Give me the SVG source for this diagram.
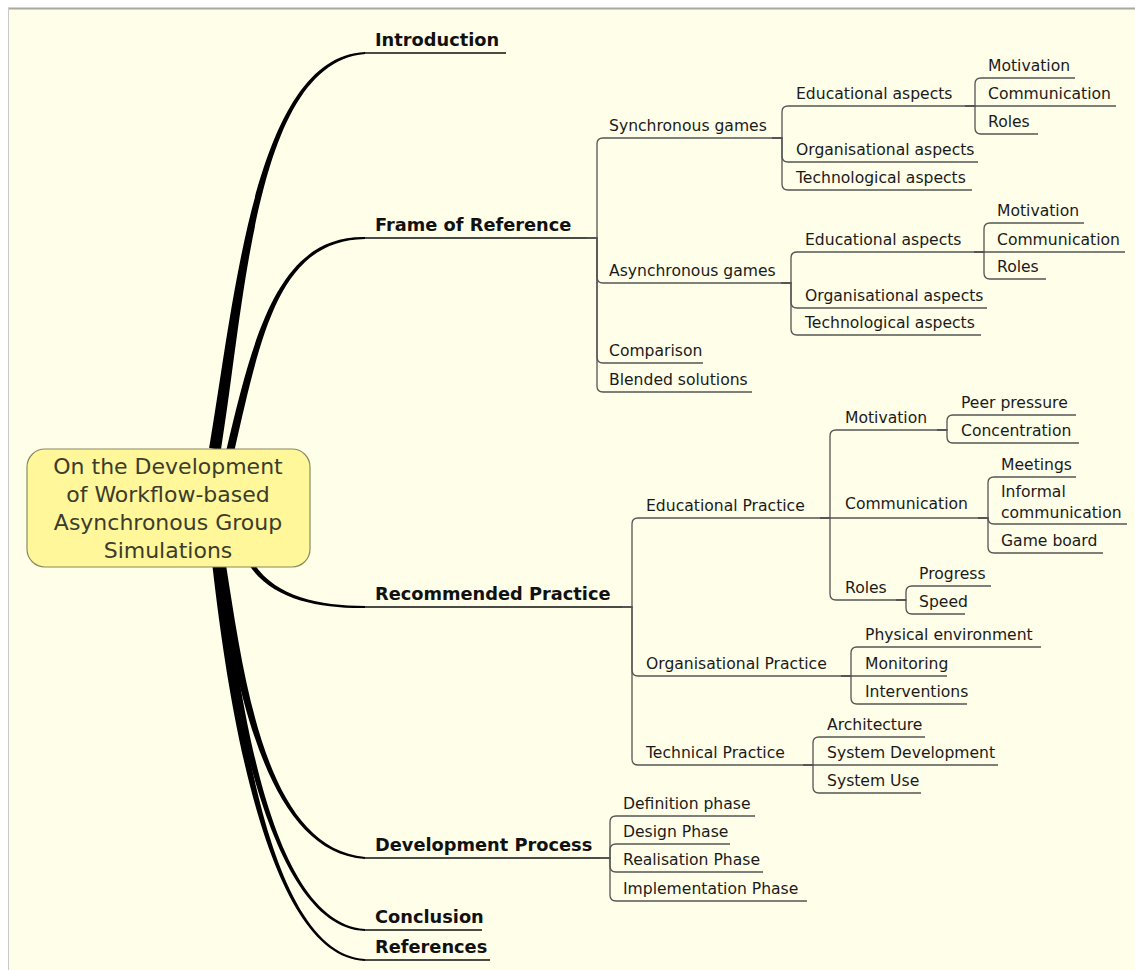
<svg xmlns="http://www.w3.org/2000/svg" width="1135" height="970" viewBox="0 0 1135 970">
<style>
.bg{fill:#FFFEE9}
.main{font-family:"DejaVu Sans",sans-serif;font-weight:bold;font-size:17.8px;fill:#111}
.sub{font-family:"DejaVu Sans",sans-serif;font-size:15.6px;fill:#1a1a1a}
.title{font-family:"DejaVu Sans",sans-serif;font-size:22px;fill:#3c3c2c;text-anchor:middle}
.ul{stroke:#111;stroke-width:1.5;fill:none}
.cn{stroke:#555;stroke-width:1.3;fill:none}
.br{fill:#000}
</style>
<rect x="0" y="0" width="1135" height="970" fill="#ffffff"/>
<rect class="bg" x="9" y="9" width="1126" height="961"/>
<line x1="8" y1="8.5" x2="1135" y2="8.5" stroke="#a8a8a0" stroke-width="2"/>
<line x1="8.5" y1="8" x2="8.5" y2="970" stroke="#c8c8c8" stroke-width="1"/>

<g id="connectors">
  <!-- main tapered branches -->
  <path class="br" d="M220.9,450 C245.3,300.9 255.2,63.2 365,53.9 L365,52.1 C254.8,56.8 234.7,299.1 209.1,448 Z"/>
  <path class="br" d="M233.9,452.9 C261.5,330.8 280,240.4 365,238.9 L365,237.1 C280,235.6 254.5,329.2 226.1,451.1 Z"/>
  <path class="br" d="M247.95,563.25 C270.2,599.1 318,608.5 365,607.9 L365,606.1 C318,605.5 273.8,596.9 252.05,560.75 Z"/>
  <path class="br" d="M216.3,565 C235.8,680.9 264.8,852.6 364.9,858.9 L365.1,857.1 C265.2,847.4 244.2,679.1 225.7,563 Z"/>
  <path class="br" d="M214.3,564.8 C230.8,700.7 269.9,927.6 365,930.9 L365,929.1 C270.1,922.4 239.2,699.3 223.7,563.2 Z"/>
  <path class="br" d="M212.3,564.7 C228.8,710.6 267.9,957.6 365,960.9 L365,959.1 C268.1,952.4 237.3,709.4 221.7,563.3 Z"/>
  <!-- main underlines -->
  <path class="ul" d="M365,53 H506 M365,238 H597 M365,607 H632 M365,858 H610 M365,930 H482 M365,960 H490"/>
  <!-- Frame of Reference -->
  <path class="cn" d="M587,238 H597 V144 Q597,138 603,138 H782"/>
  <path class="cn" d="M587,238 H597 V277 Q597,283 603,283 H791"/>
  <path class="cn" d="M587,238 H597 V357 Q597,363 603,363 H703"/>
  <path class="cn" d="M587,238 H597 V386 Q597,392 603,392 H752"/>
  <path class="cn" d="M772,138 H782 V112 Q782,106 788,106 H975"/>
  <path class="cn" d="M772,138 H782 V156 Q782,162 788,162 H978"/>
  <path class="cn" d="M772,138 H782 V184 Q782,190 788,190 H972"/>
  <path class="cn" d="M965,106 H975 V84 Q975,78 981,78 H1075"/>
  <path class="cn" d="M965,106 H1116"/>
  <path class="cn" d="M965,106 H975 V128 Q975,134 981,134 H1038"/>
  <path class="cn" d="M781,283 H791 V258 Q791,252 797,252 H984"/>
  <path class="cn" d="M781,283 H791 V302 Q791,308 797,308 H987"/>
  <path class="cn" d="M781,283 H791 V329 Q791,335 797,335 H981"/>
  <path class="cn" d="M974,252 H984 V229 Q984,223 990,223 H1084"/>
  <path class="cn" d="M974,252 H1125"/>
  <path class="cn" d="M974,252 H984 V273 Q984,279 990,279 H1046"/>
  <!-- Recommended Practice -->
  <path class="cn" d="M622,607 H632 V524 Q632,518 638,518 H830"/>
  <path class="cn" d="M622,607 H632 V670 Q632,676 638,676 H851"/>
  <path class="cn" d="M622,607 H632 V759 Q632,765 638,765 H813"/>
  <path class="cn" d="M820,518 H830 V436 Q830,430 836,430 H947"/>
  <path class="cn" d="M820,518 H988"/>
  <path class="cn" d="M820,518 H830 V594 Q830,600 836,600 H906"/>
  <path class="cn" d="M937,430 H947 V421 Q947,415 953,415 H1076"/>
  <path class="cn" d="M937,430 H947 V437 Q947,443 953,443 H1079"/>
  <path class="cn" d="M978,518 H988 V483 Q988,477 994,477 H1076"/>
  <path class="cn" d="M978,518 H988 Q988,524 994,524 H1127"/>
  <path class="cn" d="M978,518 H988 V547 Q988,553 994,553 H1103"/>
  <path class="cn" d="M896,600 H906 V592 Q906,586 912,586 H991"/>
  <path class="cn" d="M896,600 H906 V608 Q906,614 912,614 H965"/>
  <path class="cn" d="M841,676 H851 V653 Q851,647 857,647 H1041"/>
  <path class="cn" d="M841,676 H947"/>
  <path class="cn" d="M841,676 H851 V698 Q851,704 857,704 H967"/>
  <path class="cn" d="M803,765 H813 V743 Q813,737 819,737 H925"/>
  <path class="cn" d="M803,765 H998"/>
  <path class="cn" d="M803,765 H813 V787 Q813,793 819,793 H921"/>
  <!-- Development Process -->
  <path class="cn" d="M600,858 H610 V822 Q610,816 616,816 H755"/>
  <path class="cn" d="M600,858 H610 V850 Q610,844 616,844 H730"/>
  <path class="cn" d="M600,858 H610 V866 Q610,872 616,872 H763"/>
  <path class="cn" d="M600,858 H610 V895 Q610,901 616,901 H807"/>
</g>

<g id="central">
  <rect x="27" y="449" width="283" height="118" rx="18" ry="18" fill="#FFF799" stroke="#8a8a60" stroke-width="1.2"/>
  <text class="title" x="168" y="474">On the Development</text>
  <text class="title" x="168" y="502">of Workflow-based</text>
  <text class="title" x="168" y="530">Asynchronous Group</text>
  <text class="title" x="168" y="558">Simulations</text>
</g>

<g id="introduction"><text class="main" x="375" y="46">Introduction</text></g>
<g id="frame"><text class="main" x="375" y="231">Frame of Reference</text></g>
<g id="recommended"><text class="main" x="375" y="600">Recommended Practice</text></g>
<g id="development"><text class="main" x="375" y="851">Development Process</text></g>
<g id="conclusion"><text class="main" x="375" y="923">Conclusion</text></g>
<g id="references"><text class="main" x="375" y="953">References</text></g>

<g id="sync"><text class="sub" x="609" y="131">Synchronous games</text></g>
<g id="sync-edu"><text class="sub" x="796" y="99">Educational aspects</text></g>
<g id="sync-edu-mot"><text class="sub" x="988" y="71">Motivation</text></g>
<g id="sync-edu-com"><text class="sub" x="988" y="99">Communication</text></g>
<g id="sync-edu-rol"><text class="sub" x="988" y="127">Roles</text></g>
<g id="sync-org"><text class="sub" x="796" y="155">Organisational aspects</text></g>
<g id="sync-tech"><text class="sub" x="796" y="183">Technological aspects</text></g>

<g id="async"><text class="sub" x="609" y="276">Asynchronous games</text></g>
<g id="async-edu"><text class="sub" x="805" y="245">Educational aspects</text></g>
<g id="async-edu-mot"><text class="sub" x="997" y="216">Motivation</text></g>
<g id="async-edu-com"><text class="sub" x="997" y="245">Communication</text></g>
<g id="async-edu-rol"><text class="sub" x="997" y="272">Roles</text></g>
<g id="async-org"><text class="sub" x="805" y="301">Organisational aspects</text></g>
<g id="async-tech"><text class="sub" x="805" y="328">Technological aspects</text></g>
<g id="comparison"><text class="sub" x="609" y="356">Comparison</text></g>
<g id="blended"><text class="sub" x="609" y="385">Blended solutions</text></g>

<g id="edup"><text class="sub" x="646" y="511">Educational Practice</text></g>
<g id="edup-mot"><text class="sub" x="845" y="423">Motivation</text></g>
<g id="peer"><text class="sub" x="961" y="408">Peer pressure</text></g>
<g id="conc"><text class="sub" x="961" y="436">Concentration</text></g>
<g id="edup-com"><text class="sub" x="845" y="509">Communication</text></g>
<g id="meet"><text class="sub" x="1001" y="470">Meetings</text></g>
<g id="informal"><text class="sub" x="1001" y="497">Informal</text><text class="sub" x="1001" y="518">communication</text></g>
<g id="gameboard"><text class="sub" x="1001" y="546">Game board</text></g>
<g id="edup-rol"><text class="sub" x="845" y="593">Roles</text></g>
<g id="progress"><text class="sub" x="919" y="579">Progress</text></g>
<g id="speed"><text class="sub" x="919" y="607">Speed</text></g>
<g id="orgp"><text class="sub" x="646" y="669">Organisational Practice</text></g>
<g id="phys"><text class="sub" x="865" y="640">Physical environment</text></g>
<g id="monitor"><text class="sub" x="865" y="669">Monitoring</text></g>
<g id="interv"><text class="sub" x="865" y="697">Interventions</text></g>
<g id="techp"><text class="sub" x="646" y="758">Technical Practice</text></g>
<g id="arch"><text class="sub" x="827" y="730">Architecture</text></g>
<g id="sysdev"><text class="sub" x="827" y="758">System Development</text></g>
<g id="sysuse"><text class="sub" x="827" y="786">System Use</text></g>

<g id="defphase"><text class="sub" x="623" y="809">Definition phase</text></g>
<g id="desphase"><text class="sub" x="623" y="837">Design Phase</text></g>
<g id="realphase"><text class="sub" x="623" y="865">Realisation Phase</text></g>
<g id="implphase"><text class="sub" x="623" y="894">Implementation Phase</text></g>
</svg>
